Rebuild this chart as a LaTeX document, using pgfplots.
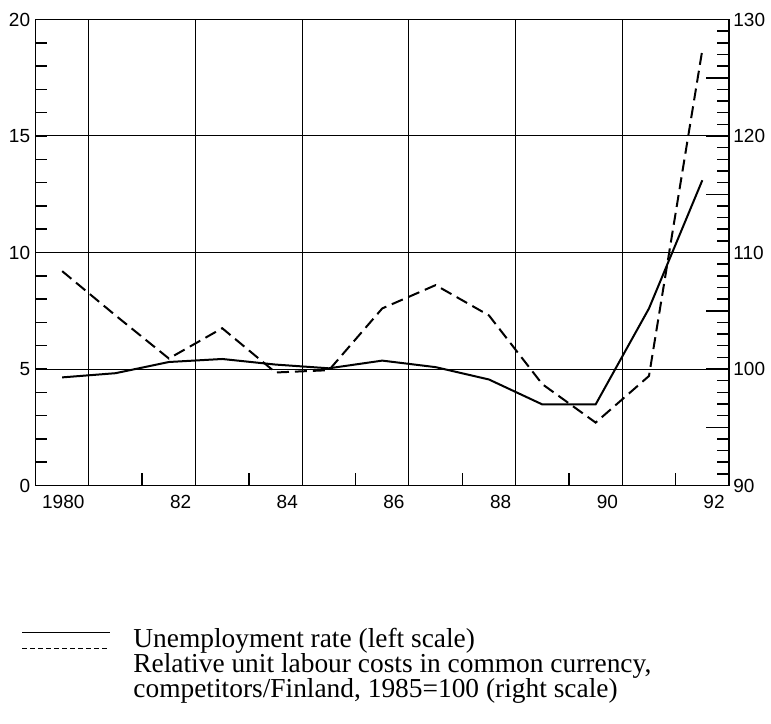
\documentclass[border=0pt]{standalone}
\usepackage{fontspec}
\setmainfont{Liberation Serif}
\setsansfont{Liberation Sans}
\usepackage{pgfplots}
\pgfplotsset{compat=1.18}
\begin{document}
\begin{tikzpicture}
\path[use as bounding box] (-17.75pt,-118.75pt) rectangle (367.75pt,242.75pt);
\begin{axis}[
  at={(0pt,0pt)}, anchor=south west,
  width=346.75pt, height=233pt, scale only axis,
  xmin=1979.5, xmax=1992.5, ymin=0, ymax=20,
  axis line style={line width=0.75pt},
  xtick={1980.5,1982.5,1984.5,1986.5,1988.5,1990.5,1992.5},
  xticklabels={1980,82,84,86,88,90,92},
  minor xtick={1981.5,1983.5,1985.5,1987.5,1989.5,1991.5},
  ytick={0,5,10,15,20},
  minor ytick={1,...,19},
  tick align=inside, tick pos=left,
  major tick length=0pt, minor tick length=6pt,
  tick style={line width=0.75pt, black},
  xmajorgrids, ymajorgrids,
  grid style={line width=0.5pt, black},
  /pgf/number format/assume math mode=true,
  ticklabel style={font=\sffamily\fontsize{9.5}{11}\selectfont},
  xticklabel style={anchor=north east, inner sep=0pt, xshift=-2pt, yshift=-4.5pt},
  yticklabel style={inner sep=2.5pt},
]
\addplot[black, line width=1pt] coordinates {
(1980,4.64) (1981,4.82) (1982,5.3) (1983,5.43) (1984,5.19) (1985,5.03)
(1986,5.36) (1987,5.08) (1988,4.55) (1989,3.48) (1990,3.48) (1991,7.6) (1992,13.1)};
\end{axis}
\begin{axis}[
  at={(0pt,0pt)}, anchor=south west,
  width=346.75pt, height=233pt, scale only axis,
  xmin=1979.5, xmax=1992.5, ymin=90, ymax=130,
  axis y line*=right, axis x line=none,
  axis line style={line width=0.75pt},
  ytick={90,95,...,130},
  yticklabels={90,,100,,110,,120,,130},
  minor ytick={91,...,129},
  tick align=inside,
  major tick length=11.5pt, minor tick length=6pt,
  tick style={line width=0.75pt, black},
  /pgf/number format/assume math mode=true,
  ticklabel style={font=\sffamily\fontsize{9.5}{11}\selectfont},
  yticklabel style={inner sep=2pt},
]
\addplot[black, line width=1pt, dash pattern=on 6pt off 3pt] coordinates {
(1980,108.4) (1981,104.6) (1982,100.9) (1983,103.5) (1984,99.7) (1985,99.9)
(1986,105.2) (1987,107.2) (1988,104.6) (1989,98.7) (1990,95.4) (1991,99.4) (1992,127.4)};
\end{axis}
% legend
\draw[black, line width=0.5pt] (-6.75pt,-73.25pt) -- (37.25pt,-73.25pt);
\draw[black, line width=0.5pt, dash pattern=on 2.5pt off 1.5pt] (-6.75pt,-81.25pt) -- (37.25pt,-81.25pt);
\node[anchor=base west, inner sep=0pt, font=\fontsize{13.7}{15}\selectfont] at (48.75pt,-80.75pt) {Unemployment rate (left scale)};
\node[anchor=base west, inner sep=0pt, font=\fontsize{13.7}{15}\selectfont] at (48.75pt,-93.25pt) {Relative unit labour costs in common currency,};
\node[anchor=base west, inner sep=0pt, font=\fontsize{13.7}{15}\selectfont] at (48.75pt,-105.75pt) {competitors/Finland, 1985=100 (right scale)};
\end{tikzpicture}
\end{document}
